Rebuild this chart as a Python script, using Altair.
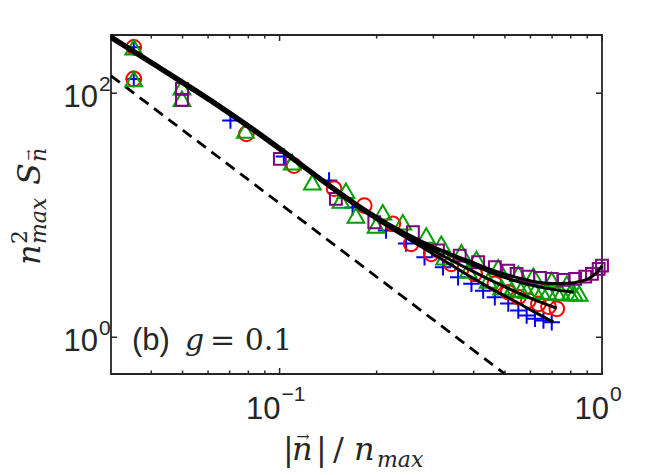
import altair as alt
import pandas as pd

# ---------------- data ----------------
blue_x = [0.0353, 0.0353, 0.0704, 0.1031, 0.1424, 0.1684, 0.2139, 0.2469, 0.2815, 0.3212,
          0.3578, 0.3936, 0.4280, 0.4652, 0.5120, 0.5501, 0.5839, 0.6196, 0.6583, 0.6984]
blue_y = [238, 131, 59.7, 30.3, 19.3, 11.6, 7.49, 5.86, 4.53, 3.75,
          3.10, 2.74, 2.41, 2.13, 1.89, 1.655, 1.506, 1.415, 1.370, 1.327]

red_x = [0.0353, 0.0353, 0.0789, 0.1108, 0.1476, 0.1831, 0.2245, 0.2559, 0.2954, 0.3408,
         0.4030, 0.4652, 0.5120, 0.5501, 0.5911, 0.6350, 0.6823, 0.7241]
red_y = [238, 131, 46.5, 25.5, 16.5, 12.0, 8.5, 5.83, 4.83, 4.00,
         3.31, 2.74, 2.34, 2.13, 2.00, 1.88, 1.785, 1.71]

green_x = [0.0353, 0.0353, 0.0498, 0.0498, 0.0783, 0.1095, 0.1264, 0.1549, 0.1606, 0.1725,
           0.1991, 0.2089, 0.2411, 0.2850, 0.3174, 0.3249, 0.3664, 0.3843, 0.4079, 0.4436,
           0.4767, 0.4881, 0.5243, 0.5501, 0.5600, 0.5839, 0.6125, 0.6200, 0.6503, 0.6800,
           0.6984, 0.7241, 0.7500, 0.7780, 0.7949, 0.8200, 0.8500]
green_y = [238, 131, 112, 90, 49.5, 27.2, 18.6, 13.2, 15.9, 9.94,
           8.23, 10.6, 8.76, 6.82, 5.83, 4.53, 4.97, 3.52, 4.39, 2.92,
           3.75, 2.57, 2.46, 3.31, 2.44, 2.41, 3.20, 2.39, 2.37, 2.35,
           2.95, 2.33, 2.31, 2.76, 2.30, 2.29, 2.28]

purple_x = [0.0498, 0.0498, 0.1002, 0.1495, 0.1967, 0.2591, 0.3099, 0.3620, 0.4129, 0.4652,
            0.5120, 0.5435, 0.5911, 0.6424, 0.6984, 0.7599, 0.8256, 0.8872, 0.9307, 0.9766, 1.0]
purple_y = [108.7, 88.3, 29.0, 13.6, 8.76, 7.26, 5.14, 4.67, 4.12, 3.75,
            3.52, 3.31, 3.145, 3.07, 3.01, 2.95, 3.01, 3.145, 3.31, 3.64, 3.87]

# fitted curves (thin black lines, overlapping into a thick bundle at small x)
fit_head_x = [0.030, 0.0406, 0.0516, 0.0655, 0.0832, 0.1057, 0.1342, 0.1704]
fit_purple_x = fit_head_x + [0.2166, 0.275, 0.3408, 0.3936, 0.4652, 0.5633, 0.6196, 0.70, 0.79, 0.86, 0.91, 0.955, 1.0]
fit_purple_y = [295, 178.7, 119.5, 79.3, 51.3, 32.4, 20.2, 12.85,
                8.6, 6.15, 4.80, 4.15, 3.50, 3.02, 2.85, 2.76, 2.77, 2.88, 3.03, 3.32, 3.85]
fit_green_x = fit_head_x + [0.2166, 0.275, 0.3408, 0.3936, 0.4652, 0.5633, 0.6984, 0.8162]
fit_green_y = [289.5, 175.6, 117.4, 77.9, 50.4, 31.8, 19.9, 12.6,
               8.45, 5.97, 4.70, 3.95, 3.30, 2.80, 2.48, 2.34]
fit_red_x = fit_head_x + [0.2166, 0.275, 0.3408, 0.3936, 0.4652, 0.5633, 0.6350, 0.7241]
fit_red_y = [283, 171.8, 114.8, 76.2, 49.3, 31.1, 19.45, 12.35,
             8.25, 5.78, 4.28, 3.52, 2.83, 2.25, 1.97, 1.73]
fit_blue_x = fit_head_x + [0.2166, 0.275, 0.3408, 0.3936, 0.4652, 0.5513, 0.6196, 0.7071]
fit_blue_y = [279, 169.2, 113.1, 75.0, 48.6, 30.7, 19.15, 12.15,
              8.1, 5.52, 3.91, 3.10, 2.41, 1.90, 1.60, 1.33]

# dashed reference line
dash_x = [0.03, 0.5]
dash_y = [138.9, 0.5]

# axes
x_domain = [0.03, 1]
y_domain = [0.5, 300]
x_major = [0.1, 1]
x_major_sup = ["\u22121", "0"]
x_minor = [0.04, 0.05, 0.06, 0.07, 0.08, 0.09, 0.2, 0.3, 0.4, 0.5, 0.6, 0.7, 0.8, 0.9]
y_major = [1, 100]
y_major_sup = ["0", "2"]

# ---------------- chart ----------------
W, H = 491, 339
AX = "#262626"
SANS = "Liberation Sans"
SERIF = "DejaVu Serif"


def mk(xs, ys):
    return pd.DataFrame({"x": xs, "y": ys})


sx = alt.Scale(type="log", domain=x_domain, nice=False)
sy = alt.Scale(type="log", domain=y_domain, nice=False)
X = alt.X("x:Q", scale=sx, axis=None)
Y = alt.Y("y:Q", scale=sy, axis=None)

layers = []

# dashed line
layers.append(alt.Chart(mk(dash_x, dash_y)).mark_line(
    color="black", strokeWidth=2.8, strokeDash=[11, 7], clip=False).encode(x=X, y=Y))


def markers(xs, ys, shape, color, size):
    return alt.Chart(mk(xs, ys)).mark_point(
        shape=shape, filled=False, color=color, strokeWidth=2, size=size, opacity=1, clip=False
    ).encode(x=X, y=Y)


layers.append(markers(blue_x, blue_y, "M-1,0L1,0M0,-1L0,1", "#0000ff", 270))
layers.append(markers(red_x, red_y, "circle", "#ff0000", 215))
layers.append(markers(green_x, green_y, "triangle-up", "#00a000", 280))
layers.append(markers(purple_x, purple_y, "square", "#800080", 140))

fits = pd.concat([
    mk(fit_purple_x, fit_purple_y).assign(s="purple"),
    mk(fit_green_x, fit_green_y).assign(s="green"),
    mk(fit_red_x, fit_red_y).assign(s="red"),
    mk(fit_blue_x, fit_blue_y).assign(s="blue"),
])
layers.append(alt.Chart(fits).mark_line(color="black", strokeWidth=3, clip=False, interpolate="monotone").encode(
    x=X, y=Y, detail="s:N", order="x:Q"))

# ticks (inward, on all four sides)
xmaj = pd.DataFrame({"x": x_major})
xmin = pd.DataFrame({"x": x_minor})
ymaj = pd.DataFrame({"y": y_major})
for df, ln in ((xmaj, 6), (xmin, 3.5)):
    layers.append(alt.Chart(df).mark_rule(color=AX, strokeWidth=1.5).encode(
        x=X, y=alt.value(H), y2=alt.value(H - ln)))
    layers.append(alt.Chart(df).mark_rule(color=AX, strokeWidth=1.5).encode(
        x=X, y=alt.value(0), y2=alt.value(ln)))
layers.append(alt.Chart(ymaj).mark_rule(color=AX, strokeWidth=1.5).encode(
    y=Y, x=alt.value(0), x2=alt.value(6)))
layers.append(alt.Chart(ymaj).mark_rule(color=AX, strokeWidth=1.5).encode(
    y=Y, x=alt.value(W), x2=alt.value(W - 6)))

# tick labels
for v, sup, dx in zip(x_major, x_major_sup, [1, 7]):
    d = pd.DataFrame({"x": [v]})
    layers.append(alt.Chart(d).mark_text(text="10", align="right", baseline="alphabetic", dx=dx,
                                         font=SANS, fontSize=31, color=AX).encode(x=X, y=alt.value(384)))
    layers.append(alt.Chart(d).mark_text(text=sup, align="left", baseline="alphabetic", dx=dx + 1,
                                         font=SANS, fontSize=21, color=AX).encode(x=X, y=alt.value(366)))
for v, sup in zip(y_major, y_major_sup):
    d = pd.DataFrame({"y": [v]})
    layers.append(alt.Chart(d).mark_text(text="10", align="right", baseline="alphabetic", dy=14,
                                         font=SANS, fontSize=31, color=AX).encode(y=Y, x=alt.value(-13)))
    layers.append(alt.Chart(d).mark_text(text=sup, align="left", baseline="alphabetic", dy=-2,
                                         font=SANS, fontSize=21, color=AX).encode(y=Y, x=alt.value(-12)))

one = pd.DataFrame({"a": [0]})


def txt(t, rx, ry, size, font=SERIF, style="italic", align="left", baseline="alphabetic", angle=0):
    return alt.Chart(one).mark_text(text=t, font=font, fontSize=size, fontStyle=style, align=align,
                                    baseline=baseline, angle=angle, color=AX).encode(
        x=alt.value(rx), y=alt.value(ry))


# x title  |n->| / n_max
layers += [
    txt("|", 172, 425, 32, style="normal"),
    txt("n", 181, 425, 32),
    txt("\u2192", 192, 402, 16, style="normal", align="center", baseline="middle"),
    txt("|", 205, 425, 32, style="normal"),
    txt("/", 222, 425, 32, style="normal"),
    txt("n", 243, 425, 32),
    txt("max", 266, 432, 22),
]

# y title  n^2_max S_n->
layers += [
    txt("n", -71, 230, 32, angle=270),
    txt("2", -84, 209, 22, style="normal", angle=270),
    txt("max", -65, 209, 22, angle=270),
    txt("S", -71, 150, 32, angle=270),
    txt("n", -65, 127, 22, angle=270),
    txt("\u2192", -82, 120, 13, style="normal", align="center", baseline="middle", angle=270),
]

# annotation  (b) g = 0.1
layers += [
    txt("(b)", 21, 315, 31, font=SANS, style="normal"),
    txt("g", 74, 315, 30),
    txt("= 0.1", 99, 315, 30, style="normal"),
]

chart = alt.layer(*layers).properties(
    width=W, height=H,
    padding={"left": 103, "top": 27, "right": 45, "bottom": 100},
    autosize=alt.AutoSizeParams(type="none"),
    background="white",
).configure_view(stroke=AX, strokeWidth=1.8)

chart.save("out.html", embed_options={"renderer": "svg", "actions": False})
